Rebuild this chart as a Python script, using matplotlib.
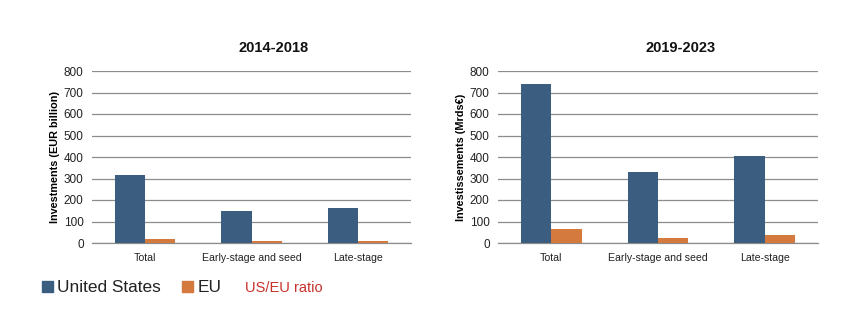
import matplotlib
matplotlib.use("Agg")
import matplotlib.pyplot as plt
import numpy as np
from matplotlib.patches import Patch

plt.rcParams['font.family'] = ['Liberation Sans', 'DejaVu Sans']

categories = ["Total", "Early-stage and seed", "Late-stage"]
us_2014_2018 = [315, 150, 161]
eu_2014_2018 = [20, 8, 11]
us_2019_2023 = [738, 329, 404]
eu_2019_2023 = [64, 25, 37]
titles = ["2014-2018", "2019-2023"]
ylabels = ["Investments (EUR billion)", "Investissements (Mrds€)"]
series_names = ["United States", "EU"]
ratio_label = "US/EU ratio"

US_COLOR = "#3A5D80"
EU_COLOR = "#D47A3E"
RATIO_COLOR = "#C8312B"

fig = plt.figure(figsize=(8.6, 3.36), dpi=100)
axes = [fig.add_axes([92/860, 1-243/336, 319/860, 172/336]),
        fig.add_axes([498/860, 1-243/336, 320/860, 172/336])]
title_x = [274/860, 681/860]

data = [(us_2014_2018, eu_2014_2018), (us_2019_2023, eu_2019_2023)]
x = np.arange(len(categories))
w = 0.285
for ax, (us, eu), title, yl, tx in zip(axes, data, titles, ylabels, title_x):
    ax.bar(x - w/2, us, w, color=US_COLOR, zorder=3)
    ax.bar(x + w/2, eu, w, color=EU_COLOR, zorder=3)
    ax.set_xlim(-0.5, 2.5)
    ax.set_ylim(0, 800)
    ax.set_yticks(range(0, 801, 100))
    ax.set_xticks(x)
    ax.set_xticklabels(categories, fontsize=7.6, color="#222222")
    ax.tick_params(axis='y', labelsize=8.5, length=0, pad=6, colors="#222222")
    ax.tick_params(axis='x', length=0, pad=7)
    ax.grid(axis='y', color="#8C8C8C", linewidth=0.9, zorder=0)
    for s in ["left", "right", "top"]:
        ax.spines[s].set_visible(False)
    ax.spines["bottom"].set_color("#8C8C8C")
    ax.spines["bottom"].set_linewidth(0.9)
    fig.text(tx, 1-47.5/336, title, fontsize=10.5, fontweight='bold',
             ha='center', va='center', color="#111111")
    ax.set_ylabel(yl, fontsize=7.8, fontweight='bold', labelpad=3)

handles = [Patch(color=US_COLOR), Patch(color=EU_COLOR)]
leg = fig.legend(handles, series_names, loc='center left',
                 bbox_to_anchor=(26/860, 1-288/336), ncol=2, frameon=False,
                 fontsize=12.4, handlelength=0.65, handleheight=0.65,
                 handletextpad=0.25, columnspacing=1.25)
for t in leg.get_texts():
    t.set_color("#222222")
fig.text(245/860, 1-288/336, ratio_label, fontsize=10.5, color=RATIO_COLOR,
         ha='left', va='center')

fig.savefig("out.png", dpi=100)
